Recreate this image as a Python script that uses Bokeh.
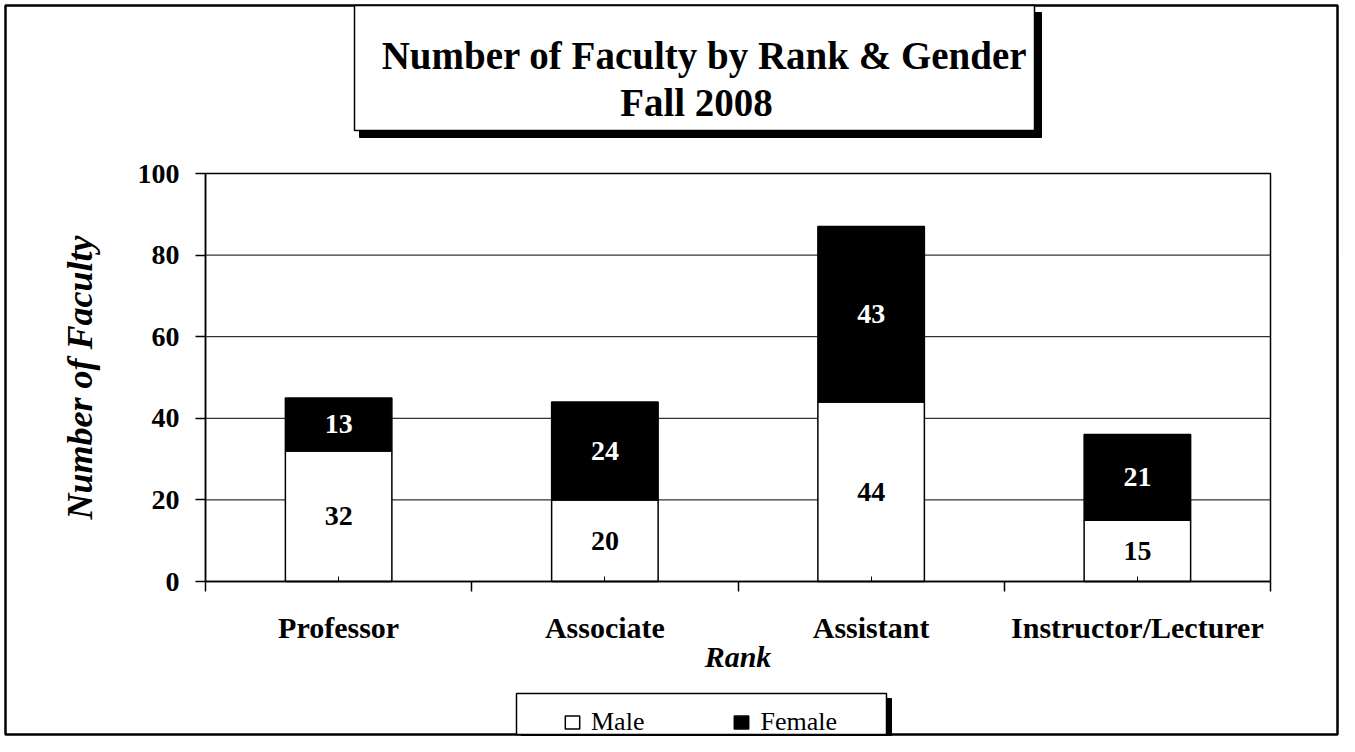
from bokeh.plotting import figure
from bokeh.models import (Range1d, FixedTicker, LinearAxis, Legend, LegendItem,
                          ColumnDataSource)
from bokeh.core.properties import value
from bokeh.embed import file_html
from bokeh.resources import INLINE

# ---- data ----
categories = ["Professor", "Associate", "Assistant", "Instructor/Lecturer"]
male = [32, 20, 44, 15]
female = [13, 24, 43, 21]
y_ticks = [0, 20, 40, 60, 80, 100]
title_lines = ["Number of Faculty by Rank & Gender", "Fall 2008"]
series_names = ["Male", "Female"]

FONT = "Liberation Serif"
W, H = 1339, 736
Y_MAX = 100
N = len(categories)

# pixel layout of the plotting area (left, right, top, bottom)
AREA_L, AREA_R, AREA_T, AREA_B = 205, 1270, 173, 581
SX = (AREA_R - AREA_L) / N
SY = (AREA_B - AREA_T) / Y_MAX


def dx(px):   # pixel x -> data x
    return (px - AREA_L) / SX


def dy(py):   # pixel y -> data y
    return (AREA_B - py) / SY


xs = [i + 0.5 for i in range(N)]
bounds = list(range(N + 1))
totals = [m + f for m, f in zip(male, female)]

p = figure(width=W, height=H, output_backend="svg", toolbar_location=None,
           x_range=Range1d(dx(0), dx(W)), y_range=Range1d(dy(H), dy(0)),
           x_axis_location=None, y_axis_location=None,
           min_border=0, min_border_left=0, min_border_right=0,
           min_border_top=0, min_border_bottom=0)
p.background_fill_color = "white"
p.border_fill_color = "white"
p.outline_line_color = None
p.grid.visible = False

# outer border
p.quad(left=[dx(5)], right=[dx(W - 2)], top=[dy(5)], bottom=[dy(H - 2)],
       fill_alpha=0, line_color="black", line_width=2.5)

# horizontal gridlines within the plotting area
p.segment(x0=[0] * len(y_ticks), x1=[N] * len(y_ticks), y0=y_ticks, y1=y_ticks,
          line_color="black", line_width=1)

src = ColumnDataSource(dict(x=xs, male=male, female=female, total=totals))
r_m = p.vbar(x="x", width=0.4, bottom=0, top="male", source=src,
             fill_color="white", line_color="black", line_width=1.5)
r_f = p.vbar(x="x", width=0.4, bottom="male", top="total", source=src,
             fill_color="black", line_color="black", line_width=1.5)

# plotting-area frame
p.quad(left=[0], right=[N], bottom=[0], top=[Y_MAX], fill_alpha=0,
       line_color="black", line_width=1.5)

# value labels
lab_x = xs + xs
lab_y = [m / 2 for m in male] + [m + f / 2 for m, f in zip(male, female)]
lab_t = [str(v) for v in male] + [str(v) for v in female]
lab_c = ["black"] * len(male) + ["white"] * len(female)
p.text(x=lab_x, y=lab_y, text=lab_t, text_color=lab_c,
       text_font=value(FONT), text_font_style="bold", text_font_size="28px",
       text_align="center", text_baseline="middle")

# y axis
ya = LinearAxis(fixed_location=0, bounds=(0, Y_MAX), ticker=FixedTicker(ticks=y_ticks))
ya.axis_line_color = "black"
ya.axis_line_width = 1.5
ya.major_tick_out = 10
ya.major_tick_in = 0
ya.major_tick_line_width = 1.5
ya.minor_tick_out = 0
ya.minor_tick_in = 0
ya.major_label_standoff = 16
ya.major_label_text_font = FONT
ya.major_label_text_font_style = "bold"
ya.major_label_text_font_size = "28px"
ya.major_label_text_color = "black"
ya.axis_label = "Number of Faculty"
ya.axis_label_text_font = FONT
ya.axis_label_text_font_style = "bold italic"
ya.axis_label_text_font_size = "36px"
ya.axis_label_text_color = "black"
ya.axis_label_standoff = 35
p.add_layout(ya, "left")

# x axis
xa = LinearAxis(fixed_location=0, bounds=(0, N),
                ticker=FixedTicker(ticks=xs, minor_ticks=bounds))
xa.major_label_overrides = {x: c for x, c in zip(xs, categories)}
xa.axis_line_color = "black"
xa.axis_line_width = 1.5
xa.major_tick_in = 5
xa.major_tick_out = 0
xa.minor_tick_in = 0
xa.minor_tick_out = 10
xa.minor_tick_line_width = 1.5
xa.major_label_standoff = 19
xa.major_label_text_font = FONT
xa.major_label_text_font_style = "bold"
xa.major_label_text_font_size = "30px"
xa.major_label_text_color = "black"
xa.axis_label = "Rank"
xa.axis_label_text_font = FONT
xa.axis_label_text_font_style = "bold italic"
xa.axis_label_text_font_size = "30px"
xa.axis_label_text_color = "black"
xa.axis_label_standoff = -7
p.add_layout(xa, "below")

# title box with drop shadow
p.quad(left=[dx(359)], right=[dx(1041)], top=[dy(12)], bottom=[dy(137)],
       fill_color="black", line_color="black")
p.quad(left=[dx(354)], right=[dx(1034)], top=[dy(5)], bottom=[dy(130)],
       fill_color="white", line_color="black", line_width=1.5)
p.text(x=[dx(704), dx(696)], y=[dy(55), dy(102)], text=title_lines,
       text_font=value(FONT), text_font_style="bold", text_font_size="39px",
       text_color="black", text_align="center", text_baseline="alphabetic")

# legend box with drop shadow
p.quad(left=[dx(521)], right=[dx(891)], top=[dy(698)], bottom=[dy(H + 10)],
       fill_color="black", line_color="black")
p.quad(left=[dx(516)], right=[dx(886)], top=[dy(693)], bottom=[dy(H - 2)],
       fill_color="white", line_color="black", line_width=1.5)

legend = Legend(items=[LegendItem(label=series_names[0], renderers=[r_m]),
                       LegendItem(label=series_names[1], renderers=[r_f])],
                orientation="horizontal", location=(563, -1), padding=0, margin=0,
                spacing=88, label_standoff=10, glyph_width=18, glyph_height=16,
                label_height=16,
                border_line_alpha=0, background_fill_alpha=0,
                label_text_font=FONT, label_text_font_size="26px", label_text_color="black")
p.add_layout(legend, "center")

open("out.html", "w").write(file_html(p, INLINE))
